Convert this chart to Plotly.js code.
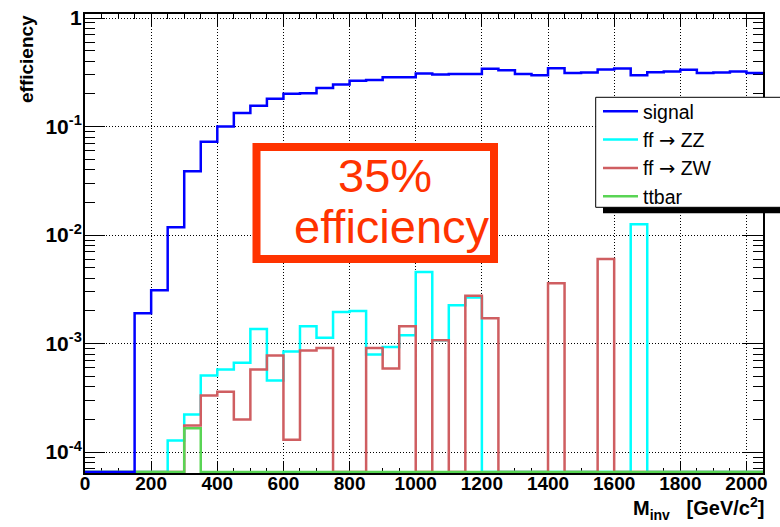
<!DOCTYPE html>
<html>
<head>
<meta charset="utf-8">
<script src="https://cdn.plot.ly/plotly-3.0.1.min.js"></script>
<style>
  html, body { margin: 0; padding: 0; background: #fff; }
  #chart { width: 780px; height: 527px; }
</style>
</head>
<body>
<div id="chart"></div>
<script>
// Invariant-mass bins: 41 bins of 50 GeV/c^2, lower edges 0 .. 2000
const binLow = [0, 50, 100, 150, 200, 250, 300, 350, 400, 450,
  500, 550, 600, 650, 700, 750, 800, 850, 900, 950,
  1000, 1050, 1100, 1150, 1200, 1250, 1300, 1350, 1400, 1450,
  1500, 1550, 1600, 1650, 1700, 1750, 1800, 1850, 1900, 1950, 2000];
const binWidth = 50;

// Selection efficiency per bin
const signalEff = [0, 0, 0, 1.9e-3, 3.1e-3, 0.0118, 0.0388, 0.0725, 0.100, 0.133,
  0.155, 0.180, 0.201, 0.203, 0.226, 0.244, 0.264, 0.269, 0.285, 0.285,
  0.308, 0.301, 0.305, 0.305, 0.340, 0.330, 0.305, 0.297, 0.345, 0.311,
  0.314, 0.335, 0.342, 0.297, 0.317, 0.321, 0.333, 0.311, 0.314, 0.321, 0.312];

const zzEff = [0, 0, 0, 0, 0, 1.28e-4, 2.22e-4, 5.07e-4, 5.76e-4, 6.64e-4,
  1.36e-3, 4.56e-4, 8.44e-4, 1.44e-3, 1.13e-3, 1.95e-3, 1.99e-3, 7.92e-4, 9.31e-4, 1.19e-3,
  4.57e-3, 1.07e-3, 2.25e-3, 2.66e-3, 0, 0, 0, 0, 0, 0,
  0, 0, 0, 0.0126, 0, 0, 0, 0, 0, 0, 0];

const zwEff = [0, 0, 0, 0, 0, 0, 1.76e-4, 3.32e-4, 3.59e-4, 2.0e-4,
  5.76e-4, 7.76e-4, 1.3e-4, 8.62e-4, 9.12e-4, 0, 0, 9.12e-4, 5.89e-4, 1.44e-3,
  0, 1.07e-3, 0, 2.75e-3, 1.71e-3, 0, 0, 0, 3.6e-3, 0,
  0, 6.0e-3, 0, 0, 0, 0, 0, 0, 0, 0, 0];

const ttbarEff = [0, 0, 0, 0, 0, 0, 1.66e-4, 0, 0, 0,
  0, 0, 0, 0, 0, 0, 0, 0, 0, 0,
  0, 0, 0, 0, 0, 0, 0, 0, 0, 0,
  0, 0, 0, 0, 0, 0, 0, 0, 0, 0, 0];

const ARROW = '<span style="font-family:DejaVu Sans">\u2192</span>';
const seriesNames = ['signal', 'ff ' + ARROW + ' ZZ', 'ff ' + ARROW + ' ZW', 'ttbar'];
const seriesColors = ['#0000ff', '#00ffff', '#cf5e61', '#59d454'];

const yTickVals = [1e-4, 1e-3, 1e-2, 1e-1, 1];
const yTickText = ['10<sup>-4</sup>', '10<sup>-3</sup>', '10<sup>-2</sup>', '10<sup>-1</sup>', '1'];

// Log-axis range (decades); empty bins are drawn along the lower frame edge
const yLogLo = -4.193, yLogHi = 0.037;
const emptyLevel = Math.pow(10, yLogLo + 0.009);

function histTrace(vals, name, color, rank) {
  const xs = [], ys = [];
  for (let i = 0; i < binLow.length; i++) {
    xs.push(binLow[i]);
    ys.push(vals[i] > 0 ? vals[i] : emptyLevel);
  }
  xs.push(binLow[binLow.length - 1] + binWidth);
  ys.push(ys[ys.length - 1]);
  return {
    type: 'scatter', mode: 'lines', x: xs, y: ys, name: name,
    line: { shape: 'hv', color: color, width: 2.5 },
    legendrank: rank, hoverinfo: 'skip'
  };
}

const traces = [
  histTrace(zzEff, seriesNames[1], seriesColors[1], 2),
  histTrace(zwEff, seriesNames[2], seriesColors[2], 3),
  histTrace(ttbarEff, seriesNames[3], seriesColors[3], 4),
  histTrace(signalEff, seriesNames[0], seriesColors[0], 1)
];

// minor log ticks at 2..9 x 10^n
const yMinor = [];
for (let e = -5; e <= 0; e++) for (let k = 2; k <= 9; k++) yMinor.push(k * Math.pow(10, e));

const FONT = 'Liberation Sans, Arial, Helvetica, sans-serif';
const ORANGE = '#ff3300';

// plot-area helpers (pixel -> paper)
const L = 85, R = 17, T = 14, B = 54, W = 780, H = 527;
const pw = W - L - R, ph = H - T - B;
const px = x => (x - L) / pw;
const py = y => (H - B - y) / ph;

const layout = {
  width: W, height: H,
  margin: { l: L, r: R, t: T, b: B, pad: 0, autoexpand: false },
  paper_bgcolor: '#ffffff', plot_bgcolor: '#ffffff',
  font: { family: FONT, color: '#000' },
  showlegend: true,
  xaxis: {
    range: [0, 2050], tickmode: 'linear', tick0: 0, dtick: 200,
    ticks: 'inside', ticklen: 12, tickwidth: 1, tickcolor: '#000',
    mirror: 'ticks', showline: true, linecolor: '#000', linewidth: 2,
    showgrid: true, gridcolor: '#000', gridwidth: 1, griddash: '1px,2px',
    zeroline: false, layer: 'below traces', ticklabelstandoff: -8,
    minor: { dtick: 50, ticks: 'inside', ticklen: 5, tickwidth: 1, tickcolor: '#000', showgrid: false },
    tickfont: { family: FONT, size: 19, weight: 'bold', color: '#000' }
  },
  yaxis: {
    type: 'log', range: [yLogLo, yLogHi],
    tickmode: 'array', tickvals: yTickVals, ticktext: yTickText,
    ticks: 'inside', ticklen: 20, tickwidth: 1, tickcolor: '#000',
    mirror: 'ticks', showline: true, linecolor: '#000', linewidth: 2,
    showgrid: true, gridcolor: '#000', gridwidth: 1, griddash: '1px,2px',
    zeroline: false, layer: 'below traces', ticklabelstandoff: -3,
    minor: { tickmode: 'array', tickvals: yMinor, ticks: 'inside', ticklen: 10, tickwidth: 1, tickcolor: '#000', showgrid: false },
    tickfont: { family: FONT, size: 21, weight: 'bold', color: '#000' }
  },
  legend: {
    x: px(598), y: py(92), xanchor: 'left', yanchor: 'top',
    bgcolor: 'rgba(0,0,0,0)', borderwidth: 0,
    font: { family: FONT, size: 19.5, color: '#000' },
    tracegroupgap: 0, itemwidth: 35
  },
  shapes: [
    // legend frame with drop shadow
    { type: 'rect', xref: 'paper', yref: 'paper', layer: 'above',
      x0: px(603), x1: px(830), y0: py(213.3), y1: py(103),
      fillcolor: '#000', line: { width: 0 } },
    { type: 'rect', xref: 'paper', yref: 'paper', layer: 'above',
      x0: px(595.7), x1: px(830), y0: py(207.3), y1: py(97.3),
      fillcolor: '#fff', line: { color: '#000', width: 1 } },
    // highlighted efficiency box
    { type: 'rect', xref: 'paper', yref: 'paper', layer: 'above',
      x0: px(256.5), x1: px(494), y0: py(259), y1: py(147),
      fillcolor: '#fff', line: { color: ORANGE, width: 8 } }
  ],
  annotations: [
    { text: '35%', xref: 'paper', yref: 'paper', x: px(385), y: py(175.4),
      xanchor: 'center', yanchor: 'middle', showarrow: false,
      font: { family: FONT, size: 47, color: ORANGE } },
    { text: 'efficiency', xref: 'paper', yref: 'paper', x: px(391.7), y: py(226.4),
      xanchor: 'center', yanchor: 'middle', showarrow: false,
      font: { family: FONT, size: 47, color: ORANGE } },
    { text: 'efficiency', xref: 'paper', yref: 'paper', x: px(26), y: py(13),
      xanchor: 'center', yanchor: 'top', textangle: -90, showarrow: false,
      font: { family: FONT, size: 19, weight: 'bold', color: '#000' } },
    { text: 'M<sub>inv</sub>\u00a0\u00a0\u00a0[GeV/c<sup>2</sup>]', xref: 'paper', yref: 'paper', x: px(766), y: py(508),
      xanchor: 'right', yanchor: 'middle', showarrow: false,
      font: { family: FONT, size: 20, weight: 'bold', color: '#000' } }
  ]
};

Plotly.newPlot('chart', traces, layout, { staticPlot: true, displayModeBar: false });
</script>
</body>
</html>
